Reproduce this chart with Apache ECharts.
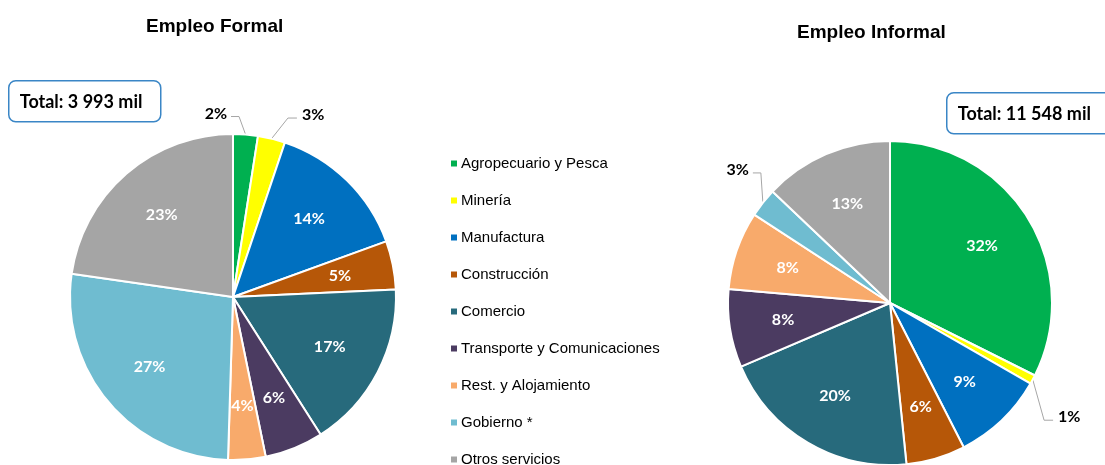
<!DOCTYPE html>
<html>
<head>
<meta charset="utf-8">
<script src="https://cdn.jsdelivr.net/npm/echarts@6/dist/echarts.min.js"></script>
<style>
  html, body { margin: 0; padding: 0; background: #fff; }
  #main { width: 1105px; height: 465px; }
</style>
</head>
<body>
<div id="main"></div>
<script>
// sectors (legend order = slice order, clockwise from 12 o'clock)
const sectors = ['Agropecuario y Pesca', 'Minería', 'Manufactura', 'Construcción', 'Comercio',
  'Transporte y Comunicaciones', 'Rest. y Alojamiento', 'Gobierno *', 'Otros servicios']
// thousands of workers
const formalValues = [98, 108, 571, 192, 667, 232, 148, 1070, 907]
const informalValues = [3740, 104, 1062, 681, 2333, 901, 901, 335, 1491]
const formalTotal = 'Total: 3 993 mil'
const informalTotal = 'Total: 11 548 mil'
// slices whose % label sits outside with a leader line
const formalOutside = [0, 1]
const informalOutside = [1, 7]

const colors = ['#00B050', '#FFFF00', '#0070C0', '#B65708', '#276A7C', '#4B3B61', '#F8AA6B', '#6FBCD0', '#A5A5A5']

const pctLabel = (p) => Math.round(p.percent) + '%'

// nudges for the outside labels, like the hand-placed ones in the original
const formalNudge = { 0: [-55, -7], 1: [14, -10] }
const informalNudge = { 1: [0, 31], 7: [10, -24] }

// move label, then redraw its leader line: from the slice edge, bend, then flat to the text
function nudgeLabel(nudge) {
  return function (params) {
    const n = nudge[params.dataIndex]
    if (!n || !params.labelLinePoints) return {}
    const r = params.labelRect
    const left = r.x + n[0]
    const right = left + r.width
    const cy = r.y + n[1] + r.height / 2 + 3
    const p0 = params.labelLinePoints[0]
    let pts
    if (left > p0[0]) {
      pts = [p0, [Math.max(p0[0], left - 14), cy], [left - 5, cy]]
    } else {
      pts = [p0, [Math.min(p0[0], right + 12), cy], [right + 4, cy]]
    }
    return { dx: n[0], dy: n[1], labelLinePoints: pts }
  }
}

function buildSeries(values, outside, nudge, center, radius) {
  const main = values.map((v, i) => ({
    name: sectors[i],
    value: v,
    label: { show: outside.includes(i) },
    labelLine: { show: outside.includes(i) },
  }))
  // transparent copy, larger radius, only used to place the inside labels further out
  const ghost = values.map((v, i) => ({
    name: sectors[i],
    value: v,
    label: { show: !outside.includes(i) },
  }))
  return [
    {
      type: 'pie',
      center: center,
      radius: radius,
      startAngle: 90,
      data: main,
      silent: true,
      avoidLabelOverlap: false,
      itemStyle: { borderColor: '#fff', borderWidth: 2 },
      label: {
        position: 'outside',
        formatter: pctLabel,
        color: '#000',
        fontFamily: 'Lato',
        fontWeight: 'bold',
        fontSize: 16,
      },
      labelLine: {
        length: 14,
        length2: 8,
        lineStyle: { color: '#A6A6A6', width: 1 },
      },
      labelLayout: nudgeLabel(nudge),
    },
    {
      type: 'pie',
      center: center,
      radius: radius * 1.3,
      startAngle: 90,
      data: ghost,
      silent: true,
      itemStyle: { color: 'transparent' },
      label: {
        position: 'inside',
        formatter: pctLabel,
        color: '#fff',
        fontFamily: 'Lato',
        fontWeight: 'bold',
        fontSize: 16,
      },
      labelLine: { show: false },
    },
  ]
}

function totalBox(x, y, w, txt) {
  return {
    type: 'group',
    left: x,
    top: y,
    children: [
      {
        type: 'rect',
        shape: { x: 0, y: 0, width: w, height: 41, r: 7 },
        style: { fill: '#fff', stroke: '#3A86C6', lineWidth: 1.5 },
      },
      {
        type: 'text',
        x: 11,
        y: 21,
        style: {
          text: txt,
          fill: '#000',
          font: 'bold 18px Lato',
          textVerticalAlign: 'middle',
        },
      },
    ],
  }
}

const chart = echarts.init(document.getElementById('main'))
const option = {
  animation: false,
  color: colors,
  title: [
    {
      text: 'Empleo Formal',
      left: 146,
      top: 17,
      padding: 0,
      textStyle: { fontFamily: 'Liberation Sans', fontWeight: 'bold', fontSize: 19, color: '#000' },
    },
    {
      text: 'Empleo Informal',
      left: 797,
      top: 23,
      padding: 0,
      textStyle: { fontFamily: 'Liberation Sans', fontWeight: 'bold', fontSize: 19, color: '#000' },
    },
  ],
  legend: {
    orient: 'vertical',
    left: 449,
    top: 156,
    height: 330,
    padding: 0,
    data: sectors,
    icon: 'rect',
    itemWidth: 8,
    itemHeight: 8,
    itemGap: 22,
    textStyle: { fontFamily: 'Liberation Sans', fontSize: 15, color: '#000', padding: [0, 0, 0, -2] },
  },
  graphic: [totalBox(8, 80, 152, formalTotal), totalBox(946, 92, 170, informalTotal)],
  series: [
    ...buildSeries(formalValues, formalOutside, formalNudge, [233, 297], 163),
    ...buildSeries(informalValues, informalOutside, informalNudge, [890, 303], 162),
  ],
}
option && chart.setOption(option)
</script>
</body>
</html>
